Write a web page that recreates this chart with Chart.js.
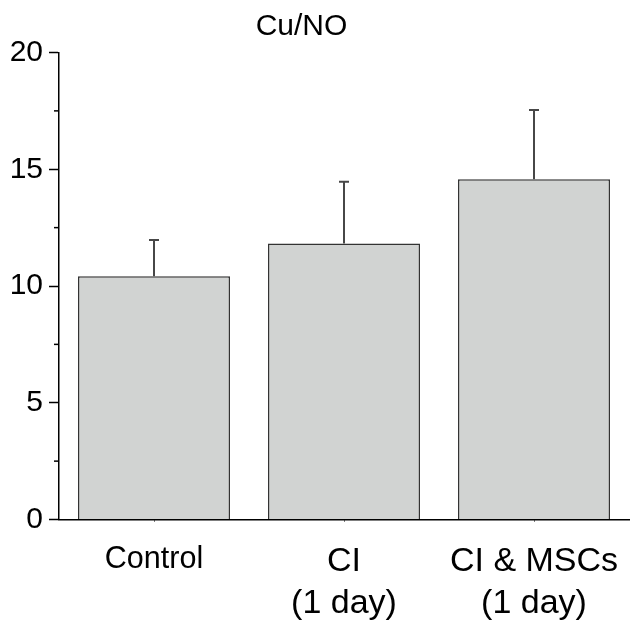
<!DOCTYPE html>
<html>
<head>
<meta charset="utf-8">
<script src="https://cdn.jsdelivr.net/npm/chart.js@4"></script>
<style>
  html, body { margin: 0; padding: 0; background: #fff; }
  canvas { display: block; }
</style>
</head>
<body>
<canvas id="c" width="630" height="622"></canvas>
<script>
const categories = ['Control', ['CI', '(1 day)'], ['CI & MSCs', '(1 day)']];
const means = [10.42, 11.82, 14.57];
const errors = [1.55, 2.65, 2.97];
const yTicks = [0, 5, 10, 15, 20];
const yMinorTicks = [2.5, 7.5, 12.5, 17.5];
const titleText = 'Cu/NO';

const FONT = '"Liberation Sans", Arial, Helvetica, sans-serif';

const errorBarPlugin = {
  id: 'errorBars',
  afterDatasetsDraw(chart) {
    const ctx = chart.ctx;
    const xs = chart.scales.x, ys = chart.scales.y;
    ctx.save();
    ctx.strokeStyle = '#474747';
    ctx.lineWidth = 2;
    means.forEach((m, i) => {
      const x = xs.getPixelForValue(i);
      const yb = ys.getPixelForValue(m);
      const yt = ys.getPixelForValue(m + errors[i]);
      ctx.beginPath();
      ctx.moveTo(x, yb);
      ctx.lineTo(x, yt);
      ctx.moveTo(x - 5, yt);
      ctx.lineTo(x + 5, yt);
      ctx.stroke();
    });
    ctx.restore();
  }
};

const minorTickPlugin = {
  id: 'minorTicks',
  afterDraw(chart) {
    const ctx = chart.ctx;
    const ys = chart.scales.y;
    ctx.save();
    ctx.strokeStyle = '#000';
    ctx.lineWidth = 1.5;
    yMinorTicks.forEach(v => {
      const y = ys.getPixelForValue(v);
      ctx.beginPath();
      ctx.moveTo(ys.right - 5, y);
      ctx.lineTo(ys.right, y);
      ctx.stroke();
    });
    ctx.restore();
  }
};

const titlePlugin = {
  id: 'plotTitle',
  afterDraw(chart) {
    const ctx = chart.ctx;
    ctx.save();
    ctx.font = '30px ' + FONT;
    ctx.fillStyle = '#000';
    ctx.textAlign = 'center';
    ctx.textBaseline = 'middle';
    ctx.fillText(titleText, 301.5, 27);
    ctx.restore();
  }
};

new Chart(document.getElementById('c'), {
  type: 'bar',
  data: {
    labels: categories,
    datasets: [{
      data: means,
      backgroundColor: '#d1d3d2',
      borderColor: '#333333',
      borderWidth: 1.5,
      barPercentage: 0.8,
      categoryPercentage: 1.0
    }]
  },
  options: {
    responsive: false,
    animation: false,
    devicePixelRatio: 1,
    layout: { padding: { top: 52.5, right: 1, left: 0, bottom: 0 } },
    plugins: {
      legend: { display: false },
      title: { display: false },
      tooltip: { enabled: false }
    },
    scales: {
      x: {
        grid: { display: true, drawOnChartArea: false, offset: false, tickLength: 2, color: '#000', lineWidth: 1 },
        border: { display: true, color: '#000', width: 1.5 },
        ticks: {
          color: '#000',
          maxRotation: 0,
          minRotation: 0,
          autoSkip: false,
          padding: 19.5,
          font: (ctx) => ({ family: FONT, size: ctx.index === 0 ? 30.5 : 34, lineHeight: 1.22 })
        },
        afterFit(scale) { scale.height = 102.5; scale.paddingLeft = 0; scale.paddingRight = 0; }
      },
      y: {
        min: 0,
        max: 20,
        afterBuildTicks(scale) { scale.ticks = yTicks.map(v => ({ value: v })); },
        grid: { display: true, drawOnChartArea: false, tickLength: 10, tickColor: '#000', tickWidth: 1.5 },
        border: { display: true, color: '#000', width: 1.5 },
        ticks: {
          color: '#000',
          padding: 6,
          font: { family: FONT, size: 30 }
        },
        afterFit(scale) { scale.width = 59; scale.paddingTop = 0; scale.paddingBottom = 0; }
      }
    }
  },
  plugins: [errorBarPlugin, minorTickPlugin, titlePlugin]
});
</script>
</body>
</html>
